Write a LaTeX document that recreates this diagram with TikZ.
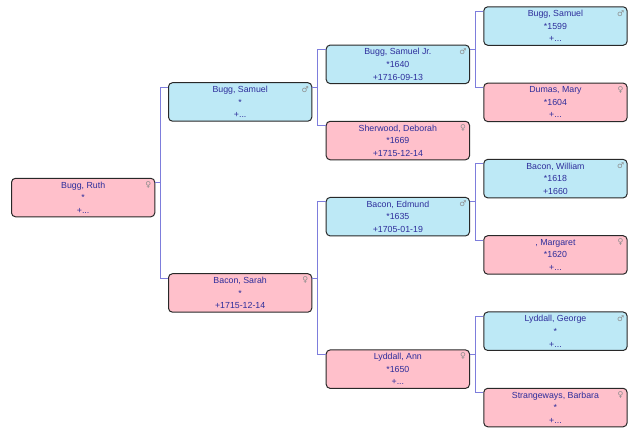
\documentclass[tikz,border=0pt]{standalone}
\usepackage{fontspec}
\setmainfont{Liberation Sans}
\newfontfamily\symfont{DejaVu Sans}
\definecolor{txtc}{RGB}{45,45,155}
\definecolor{malec}{RGB}{189,233,246}
\definecolor{femc}{RGB}{255,192,203}
\definecolor{bordc}{RGB}{40,40,40}
\definecolor{connc}{RGB}{125,125,220}
\definecolor{symc}{RGB}{140,140,140}
\tikzset{
  pbase/.style={draw=bordc, line width=1pt, rounded corners=4pt, minimum width=143.3pt,
    minimum height=38.5pt, inner sep=0pt, align=center, text=txtc,
    font=\fontsize{8.8pt}{12.6pt}\selectfont, anchor=north west},
  male/.style={pbase, fill=malec},
  female/.style={pbase, fill=femc},
  sym/.style={text=symc, inner sep=0pt, font=\symfont\fontsize{8pt}{8pt}\selectfont},
  conn/.style={draw=connc, line width=0.9pt}
}
\newcommand\famnode[6]{%
  \node[#2] (#1) at (#3,#4) {#5};
  \node[sym] (#1s) at ([xshift=-7pt,yshift=-7pt]#1.north east) {#6};}
\newcommand\famlink[3]{%
  \draw[conn] ([yshift=-5pt]#1.north east) -- ([xshift=6pt,yshift=-5pt]#1.north east);
  \draw[conn] ([yshift=-5pt]#2.north west) -- ([xshift=-8pt,yshift=-5pt]#2.north west)
     |- ([yshift=-5pt]#3.north west);}
\begin{document}
\begin{tikzpicture}[x=1pt,y=-1pt]
\useasboundingbox (0,0) rectangle (640,435);
% generation 0
\famnode{ruth}{female}{11}{177.8}{Bugg, Ruth\\*\\+...}{♀}
% generation 1
\famnode{sam}{male}{168}{82.2}{Bugg, Samuel\\*\\+...}{♂}
\famnode{sarah}{female}{168}{273.2}{Bacon, Sarah\\*\\+1715-12-14}{♀}
% generation 2
\famnode{samjr}{male}{325.7}{44.6}{Bugg, Samuel Jr.\\*1640\\+1716-09-13}{♂}
\famnode{deb}{female}{325.7}{120.8}{Sherwood, Deborah\\*1669\\+1715-12-14}{♀}
\famnode{edm}{male}{325.7}{196.9}{Bacon, Edmund\\*1635\\+1705-01-19}{♂}
\famnode{ann}{female}{325.7}{349.4}{Lyddall, Ann\\*1650\\+...}{♀}
% generation 3
\famnode{samsr}{male}{483.3}{6.3}{Bugg, Samuel\\*1599\\+...}{♂}
\famnode{mary}{female}{483.3}{82.6}{Dumas, Mary\\*1604\\+...}{♀}
\famnode{will}{male}{483.3}{158.9}{Bacon, William\\*1618\\+1660}{♂}
\famnode{marg}{female}{483.3}{235.2}{, Margaret\\*1620\\+...}{♀}
\famnode{geo}{male}{483.3}{311.5}{Lyddall, George\\*\\+...}{♂}
\famnode{barb}{female}{483.3}{387.8}{Strangeways, Barbara\\*\\+...}{♀}
% connectors
\famlink{ruth}{sam}{sarah}
\famlink{sam}{samjr}{deb}
\famlink{sarah}{edm}{ann}
\famlink{samjr}{samsr}{mary}
\famlink{edm}{will}{marg}
\famlink{ann}{geo}{barb}
\end{tikzpicture}
\end{document}
